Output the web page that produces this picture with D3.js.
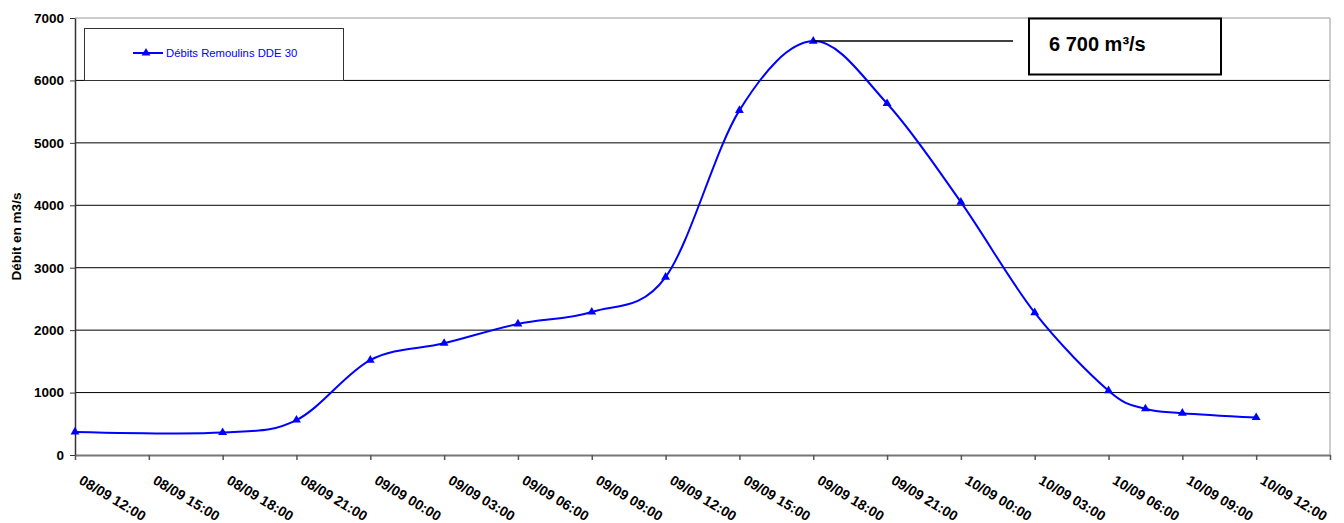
<!DOCTYPE html>
<html>
<head>
<meta charset="utf-8">
<script src="https://cdn.jsdelivr.net/npm/d3@7"></script>
<style>
  body { margin: 0; background: #fff; }
  svg { display: block; font-family: Arial, "Liberation Sans", sans-serif; }
</style>
</head>
<body>
<svg id="chart" width="1344" height="523"></svg>
<script>
// flow readings (time label, m3/s)
const times = ["08/09 12:00", "08/09 18:00", "08/09 21:00", "09/09 00:00", "09/09 03:00",
  "09/09 06:00", "09/09 09:00", "09/09 12:00", "09/09 15:00", "09/09 18:00", "09/09 21:00",
  "10/09 00:00", "10/09 03:00", "10/09 06:00", "10/09 07:30", "10/09 09:00", "10/09 12:00"];
const values = [370, 360, 560, 1520, 1790, 2100, 2290, 2850, 5520, 6630, 5630,
  4050, 2280, 1030, 740, 670, 600];

// last tick (10/09 15:00) has its label cut off by the picture edge
const xTicks = ["08/09 12:00", "08/09 15:00", "08/09 18:00", "08/09 21:00", "09/09 00:00",
  "09/09 03:00", "09/09 06:00", "09/09 09:00", "09/09 12:00", "09/09 15:00", "09/09 18:00",
  "09/09 21:00", "10/09 00:00", "10/09 03:00", "10/09 06:00", "10/09 09:00", "10/09 12:00",
  "10/09 15:00"];
const xTickLabels = xTicks.slice(0, 17).concat([""]);
const yTicks = [0, 1000, 2000, 3000, 4000, 5000, 6000, 7000];

const seriesName = "Débits Remoulins DDE 30";
const peakLabel = "6 700 m³/s";
const yTitle = "Débit en m3/s";

const parse = s => d3.timeParse("%Y/%d/%m %H:%M")("2002/" + s);
const data = times.map((t, i) => ({ t: parse(t), v: values[i] }));

let svg = d3.select("#chart");
let mLeft = 75, mRight = 1330, mTop = 18, mBottom = 455;

let x = d3.scaleTime()
  .domain([parse(xTicks[0]), parse(xTicks[xTicks.length - 1])])
  .range([mLeft, mRight]);
let y = d3.scaleLinear().domain([0, 7000]).range([mBottom, mTop]);

// gridlines
svg.append("g")
  .selectAll("line")
  .data(yTicks.filter(d => d > 0 && d < 7000))
  .join("line")
  .attr("x1", mLeft).attr("x2", mRight)
  .attr("y1", d => y(d)).attr("y2", d => y(d))
  .attr("stroke", "#000").attr("stroke-width", 1);

// plot border top / right
svg.append("path")
  .attr("d", `M${mLeft},${mTop}H${mRight}V${mBottom}`)
  .attr("fill", "none").attr("stroke", "#999").attr("stroke-width", 1);

// y axis
let yAxis = svg.append("g")
  .attr("transform", `translate(${mLeft},0)`)
  .call(d3.axisLeft(y).tickValues(yTicks).tickSize(5).tickSizeOuter(0).tickFormat(d3.format("d")));
yAxis.select(".domain").attr("stroke", "#333").attr("stroke-width", 1.5);
yAxis.selectAll(".tick line").attr("stroke", "#333");
yAxis.selectAll("text")
  .attr("x", -11)
  .attr("font-size", 13.5).attr("font-weight", "bold").attr("fill", "#000")
  .attr("font-family", "Arial, 'Liberation Sans', sans-serif");

// x axis
let xAxis = svg.append("g")
  .attr("transform", `translate(0,${mBottom})`)
  .call(d3.axisBottom(x).tickValues(xTicks.map(parse)).tickSize(5).tickSizeOuter(0)
    .tickFormat((d, i) => xTickLabels[i]));
xAxis.select(".domain").attr("stroke", "#777").attr("stroke-width", 2);
xAxis.selectAll(".tick line").attr("stroke", "#555").attr("stroke-width", 1.5);
xAxis.selectAll("text")
  .attr("text-anchor", "start")
  .attr("transform", "translate(8,19) rotate(31)")
  .attr("x", 0).attr("y", 0).attr("dy", "0.75em")
  .attr("font-size", 14).attr("font-weight", "bold").attr("fill", "#000")
  .attr("font-family", "Arial, 'Liberation Sans', sans-serif");

// y title
svg.append("text")
  .attr("transform", `translate(21,${(mTop + mBottom) / 2}) rotate(-90)`)
  .attr("text-anchor", "middle")
  .attr("font-size", 13.5).attr("font-weight", "bold")
  .text(yTitle);

// the series
let line = d3.line()
  .x(d => x(d.t))
  .y(d => y(d.v))
  .curve(d3.curveCardinal.tension(0));

svg.append("path")
  .datum(data)
  .attr("fill", "none")
  .attr("stroke", "#0000ff")
  .attr("stroke-width", 2)
  .attr("d", line);

let tri = d3.symbol().type(d3.symbolTriangle).size(34);
svg.append("g")
  .selectAll("path")
  .data(data)
  .join("path")
  .attr("transform", d => `translate(${x(d.t)},${y(d.v)})`)
  .attr("d", tri)
  .attr("fill", "#0000ff");

// legend
let lg = svg.append("g");
lg.append("rect")
  .attr("x", 84.5).attr("y", 28.5).attr("width", 259).attr("height", 52)
  .attr("fill", "#fff").attr("stroke", "#333").attr("stroke-width", 1);
lg.append("line")
  .attr("x1", 133).attr("x2", 163).attr("y1", 53).attr("y2", 53)
  .attr("stroke", "#0000ff").attr("stroke-width", 2);
lg.append("path")
  .attr("transform", "translate(146,53)")
  .attr("d", tri)
  .attr("fill", "#0000ff");
lg.append("text")
  .attr("x", 166).attr("y", 57)
  .attr("font-size", 11.3).attr("fill", "#0000ff")
  .text(seriesName);

// peak annotation
let peak = data[d3.maxIndex(data, d => d.v)];
svg.append("line")
  .attr("x1", x(peak.t)).attr("y1", y(peak.v))
  .attr("x2", 1013).attr("y2", y(peak.v))
  .attr("stroke", "#000").attr("stroke-width", 1.5);
svg.append("rect")
  .attr("x", 1029).attr("y", 18.5).attr("width", 192).attr("height", 56)
  .attr("fill", "#fff").attr("stroke", "#000").attr("stroke-width", 2);
svg.append("text")
  .attr("x", 1049).attr("y", 51)
  .attr("font-size", 20).attr("font-weight", "bold")
  .text(peakLabel);
</script>
</body>
</html>
